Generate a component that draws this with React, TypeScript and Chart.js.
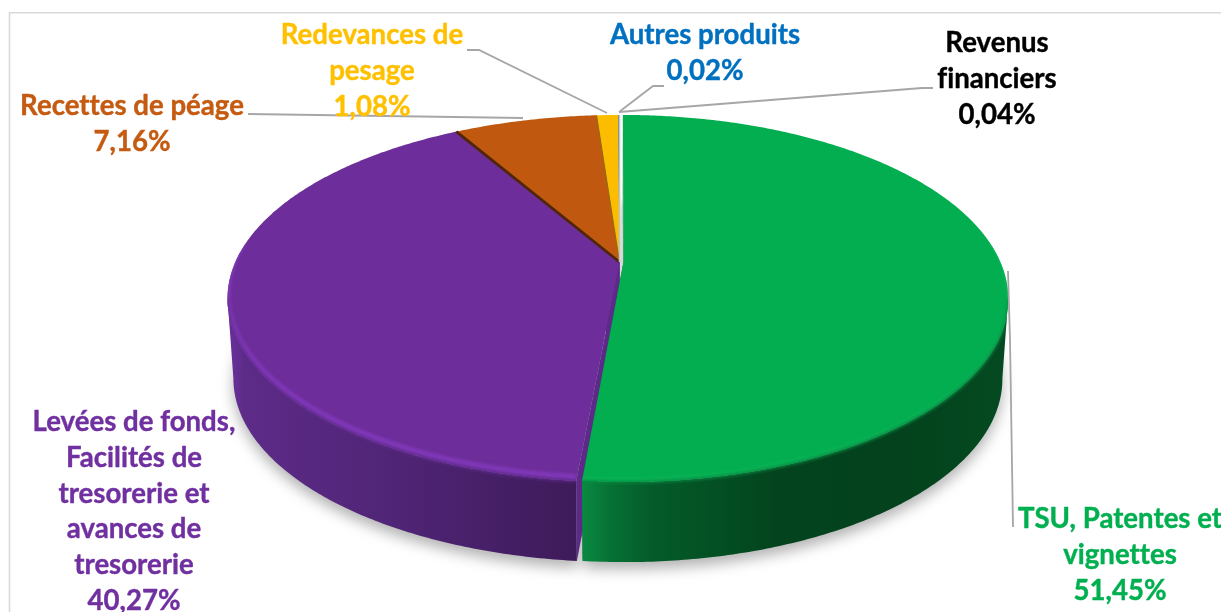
import React, { useEffect, useRef } from "react";
import { Chart, registerables } from "chart.js";

Chart.register(...registerables);

// ---- data ----
const categories = [
  "TSU, Patentes et vignettes",
  "Levées de fonds, Facilités de tresorerie et avances de tresorerie",
  "Recettes de péage",
  "Redevances de pesage",
  "Autres produits",
  "Revenus financiers",
];
const shares = [51.45, 40.27, 7.16, 1.08, 0.02, 0.04];
const shareLabels = ["51,45%", "40,27%", "7,16%", "1,08%", "0,02%", "0,04%"];

// ---- styles ----
const faceColors = ["#03AE50", "#6D2D9A", "#C1580F", "#FCBD00", "#0070C0", "#111111"];
const labelColors = ["#00B050", "#7030A0", "#C55A11", "#FFC000", "#0070C0", "#000000"];
const sliceOffsets = [4, 0, 0, 0, 0, 0];
const sliceRadius = [0.984, 1.003, 1.003, 1.003, 1, 1];
const labelLines = [
  ["TSU, Patentes et", "vignettes"],
  ["Levées de fonds,", "Facilités de", "tresorerie et", "avances de", "tresorerie"],
  ["Recettes de péage"],
  ["Redevances de", "pesage"],
  ["Autres produits"],
  ["Revenus", "financiers"],
];
const labelAnchors = [
  [1120, 519],
  [134, 422],
  [132, 106],
  [372, 35],
  [705, 35],
  [997, 43],
];
const leaders = [
  [[1008, 271], [1010, 340], [1013, 527]],
  [],
  [[248, 114], [523, 118]],
  [[467, 50], [479, 50], [607, 113]],
  [[664, 86], [653, 86], [619, 112]],
  [[933, 88], [922, 88], [619, 112]],
];
const wallStops: [number, string][][] = [
  [[582, "#0A8A42"], [610, "#067234"], [650, "#045C2A"], [780, "#03431D"], [900, "#03421C"], [1010, "#044A21"]],
  [[227, "#6B31A0"], [245, "#5D2B88"], [400, "#4F2475"], [575, "#3E1B5A"]],
  [[0, "#7a380a"], [1221, "#7a380a"]],
  [[0, "#a07800"], [1221, "#a07800"]],
  [[0, "#004a80"], [1221, "#004a80"]],
  [[0, "#000000"], [1221, "#000000"]],
];
const cutColors = ["#04672F", "#5D2A8A", "#4F2608", "#8A6A10", "#0070C0", "#B9C8C8"];
const bevelColors = ["#0CB659", "#8038B8"];
const rimColors = ["#078A42", "#5F2A8C"];
const bevelWidths = [3, 6];

// ---- projection of the pie disc ----
const CX = 619.5;
const CY = 262;
const A = 383;
const B = 176.3;
const K = -0.199;
const DEPTH = 80;
const WALL_SCALE = 0.985;
const FOLD = 0.2; // angle at which the disc edge turns from back to front
const FONT_SIZE = 28;
const LINE_STEP = 35.8;
const SQUEEZE = 0.985;

type P = [number, number];

const project = (angle: number, r: number, i: number, el: any): P => {
  const u = Math.cos(angle) * r;
  const v = Math.sin(angle) * r;
  const mid = (el.startAngle + el.endAngle) / 2;
  const off = el.options.offset || 0;
  const den = 1 + K * v;
  const x = CX + (off * Math.cos(mid)) / den + (A * sliceRadius[i] * u) / den;
  const y = CY + (B * v) / den;
  return [x, y];
};
const lower = (p: P): P => [CX + (p[0] - CX) * WALL_SCALE, p[1] + DEPTH];

const rimPoints = (s: number, e: number, i: number, el: any): P[] => {
  const n = Math.max(2, Math.ceil((e - s) / 0.01));
  const out: P[] = [];
  for (let k = 0; k <= n; k++) out.push(project(s + ((e - s) * k) / n, 1, i, el));
  return out;
};
const trace = (ctx: CanvasRenderingContext2D, pts: P[]) => {
  ctx.beginPath();
  pts.forEach((p, k) => (k ? ctx.lineTo(p[0], p[1]) : ctx.moveTo(p[0], p[1])));
};
const wallGradient = (ctx: CanvasRenderingContext2D, i: number) => {
  const g = ctx.createLinearGradient(0, 0, 1221, 0);
  wallStops[i].forEach(([x, c]) => g.addColorStop(x / 1221, c));
  return g;
};
// Only the front part of the outer edge has a visible wall.
const frontRange = (el: any): [number, number] => [
  Math.max(el.startAngle, FOLD),
  Math.min(el.endAngle, Math.PI - FOLD),
];
const frontWall = (i: number, el: any): P[] => {
  const [s, e] = frontRange(el);
  if (s >= e) return [];
  const rim = rimPoints(s, e, i, el);
  return [...rim, ...rim.slice().reverse().map(lower)];
};

const pie3d = {
  id: "pie3d",
  beforeDatasetsDraw(chart: any) {
    const ctx: CanvasRenderingContext2D = chart.ctx;
    const arcs = chart.getDatasetMeta(0).data;
    const order = [2, 3, 4, 5, 1, 0];

    // frame
    ctx.save();
    ctx.strokeStyle = "#D9D9D9";
    ctx.lineWidth = 1.6;
    ctx.beginPath();
    ctx.moveTo(9.5, 640);
    ctx.lineTo(9.5, 12.7);
    ctx.lineTo(1240, 12.7);
    ctx.stroke();
    ctx.restore();

    // soft ground shadow under the pie
    ctx.save();
    ctx.filter = "blur(7px)";
    ctx.fillStyle = "rgba(0,0,0,0.3)";
    arcs.forEach((el: any, i: number) => {
      if (i > 1) return;
      const pts = rimPoints(el.startAngle, el.endAngle, i, el).map(lower);
      pts.push(lower([CX, CY]));
      ctx.save();
      ctx.translate(0, 7);
      trace(ctx, pts);
      ctx.closePath();
      ctx.fill();
      ctx.restore();
    });
    ctx.restore();

    // radial cuts, then outer walls
    order.forEach((i) => {
      const el = arcs[i];
      const rim = rimPoints(el.startAngle, el.endAngle, i, el);
      const apex = project(0, 0, i, el);
      [rim[0], rim[rim.length - 1]].forEach((edge) => {
        trace(ctx, [apex, edge, lower(edge), lower(apex)]);
        ctx.closePath();
        ctx.fillStyle = cutColors[i];
        ctx.fill();
      });
      const wall = frontWall(i, el);
      if (wall.length) {
        trace(ctx, wall);
        ctx.closePath();
        ctx.fillStyle = wallGradient(ctx, i);
        ctx.fill();
      }
    });

    // top faces
    order.forEach((i) => {
      const el = arcs[i];
      trace(ctx, [project(0, 0, i, el), ...rimPoints(el.startAngle, el.endAngle, i, el)]);
      ctx.closePath();
      ctx.fillStyle = faceColors[i];
      ctx.fill();
    });

    // bevel highlight just inside the front rim
    [1, 0].forEach((i) => {
      const el = arcs[i];
      ctx.save();
      trace(ctx, [project(0, 0, i, el), ...rimPoints(el.startAngle, el.endAngle, i, el)]);
      ctx.closePath();
      ctx.clip();
      const s = Math.max(el.startAngle, i === 0 ? -0.1 : 0);
      const e = Math.min(el.endAngle, i === 1 ? Math.PI + 0.1 : Math.PI);
      ctx.filter = "blur(1.5px)";
      ctx.strokeStyle = bevelColors[i];
      ctx.lineWidth = bevelWidths[i];
      ctx.translate(0, -bevelWidths[i] / 2 - 1);
      trace(ctx, rimPoints(s, e, i, el));
      ctx.stroke();
      ctx.restore();
    });

    // soft transition between face and wall along the front rim
    [1, 0].forEach((i) => {
      const el = arcs[i];
      const rim = rimPoints(el.startAngle, el.endAngle, i, el);
      const wall = frontWall(i, el);
      ctx.save();
      ctx.beginPath();
      [[project(0, 0, i, el), ...rim], wall].forEach((poly) => {
        poly.forEach((p, k) => (k ? ctx.lineTo(p[0], p[1]) : ctx.moveTo(p[0], p[1])));
        ctx.closePath();
      });
      ctx.clip("nonzero");
      const [s, e] = frontRange(el);
      ctx.filter = "blur(1.5px)";
      ctx.strokeStyle = rimColors[i];
      ctx.lineWidth = 2.5;
      trace(ctx, rimPoints(s, e, i, el));
      ctx.stroke();
      ctx.restore();
    });

    // dark seams between slices of the back
    ctx.save();
    ctx.lineCap = "butt";
    [2, 3, 5].forEach((i) => {
      const el = arcs[i];
      const edge = i === 5 ? project(el.endAngle, 1, i, el) : project(el.startAngle, 1, i, el);
      ctx.strokeStyle = cutColors[i];
      ctx.lineWidth = i === 2 ? 2.8 : i === 3 ? 1 : 1.5;
      trace(ctx, [project(0, 0, i, el), edge]);
      ctx.stroke();
    });
    ctx.restore();
    return false;
  },
  afterDraw(chart: any) {
    const ctx: CanvasRenderingContext2D = chart.ctx;
    ctx.save();
    ctx.strokeStyle = "#A6A6A6";
    ctx.lineWidth = 1.8;
    leaders.forEach((l) => {
      if (!l.length) return;
      trace(ctx, l as P[]);
      ctx.stroke();
    });
    ctx.font = `bold ${FONT_SIZE}px Lato, "Open Sans", sans-serif`;
    (ctx as any).letterSpacing = "0.01px"; // keeps "fi" as two letters
    ctx.textAlign = "center";
    ctx.textBaseline = "middle";
    ctx.lineWidth = 0.4;
    ctx.lineJoin = "round";
    categories.forEach((_, i) => {
      const [x, y0] = labelAnchors[i];
      const lines = [...labelLines[i], shareLabels[i]];
      ctx.fillStyle = labelColors[i];
      ctx.strokeStyle = labelColors[i];
      lines.forEach((t, k) => {
        ctx.save();
        ctx.translate(x, y0 + k * LINE_STEP);
        ctx.scale(SQUEEZE, 1);
        ctx.fillText(t, 0, 0);
        ctx.strokeText(t, 0, 0);
        ctx.restore();
      });
    });
    ctx.restore();
  },
};

export default function App() {
  const ref = useRef<HTMLCanvasElement>(null);
  useEffect(() => {
    const chart = new Chart(ref.current as HTMLCanvasElement, {
      type: "pie",
      data: {
        labels: categories,
        datasets: [
          {
            data: shares,
            backgroundColor: faceColors,
            offset: sliceOffsets,
            borderWidth: 0,
          },
        ],
      },
      options: {
        responsive: false,
        animation: false,
        devicePixelRatio: 1,
        layout: { padding: 0 },
        plugins: { legend: { display: false }, tooltip: { enabled: false } },
      },
      plugins: [pie3d],
    } as any);
    return () => chart.destroy();
  }, []);
  return (
    <div style={{ position: "fixed", left: 0, top: 0, width: 1221, height: 612, background: "#fff" }}>
      <canvas ref={ref} width={1221} height={612} style={{ display: "block" }} />
    </div>
  );
}
